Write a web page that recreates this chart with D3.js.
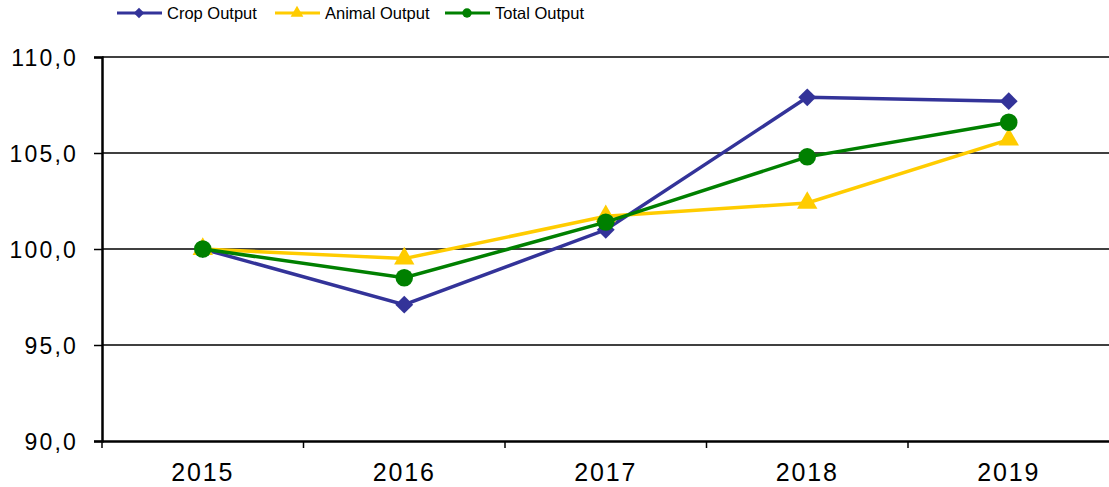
<!DOCTYPE html>
<html>
<head>
<meta charset="utf-8">
<script src="https://cdn.jsdelivr.net/npm/d3@7"></script>
<style>
  body { margin: 0; background: #fff; }
  text { font-family: "Liberation Sans", Arial, sans-serif; fill: #000; }
</style>
</head>
<body>
<script>
// data
var years = ['2015', '2016', '2017', '2018', '2019'];
var cropOutput = [100.0, 97.1, 101.0, 107.9, 107.7];
var animalOutput = [100.0, 99.5, 101.7, 102.4, 105.7];
var totalOutput = [100.0, 98.5, 101.4, 104.8, 106.6];
var yTicks = [90, 95, 100, 105, 110];

var series = [
  { name: 'Crop Output', values: cropOutput, color: '#333399', marker: 'diamond' },
  { name: 'Animal Output', values: animalOutput, color: '#FFCC00', marker: 'triangle' },
  { name: 'Total Output', values: totalOutput, color: '#008000', marker: 'circle' }
];

var width = 1109, height = 487;
var plotLeft = 102, plotRight = 1109.5, plotTop = 57, plotBottom = 441;

var svg = d3.select('body').append('svg')
  .attr('width', width)
  .attr('height', height);

var x = d3.scaleBand().domain(years).range([plotLeft, plotRight]);
var y = d3.scaleLinear().domain([90, 110]).range([plotBottom, plotTop]);

var fmt = function(d){ return d3.format('.1f')(d).replace('.', ','); };

// gridlines
svg.append('g').selectAll('line').data(yTicks.slice(1))
  .enter().append('line')
  .attr('x1', plotLeft).attr('x2', width)
  .attr('y1', function(d){ return y(d); })
  .attr('y2', function(d){ return y(d); })
  .attr('stroke', '#000').attr('stroke-width', 1.5);

// y axis
var yAxis = svg.append('g')
  .attr('transform', 'translate(' + plotLeft + ',0)')
  .call(d3.axisLeft(y).tickValues(yTicks).tickFormat(fmt).tickSize(8).tickPadding(16));
yAxis.select('.domain').attr('stroke', '#000').attr('stroke-width', 2.5);
yAxis.selectAll('.tick line').attr('stroke-width', 1.5);
yAxis.selectAll('text')
  .style('font-size', '23px')
  .style('letter-spacing', '2.2px')
  .attr('dy', '0.36em');

// x axis, ticks on category boundaries
var xAxis = svg.append('g')
  .attr('transform', 'translate(0,' + plotBottom + ')')
  .call(d3.axisBottom(x).tickSize(0).tickPadding(22));
xAxis.select('.domain').attr('stroke', '#000').attr('stroke-width', 2.5);
xAxis.selectAll('text')
  .style('font-size', '25px')
  .style('letter-spacing', '1.8px');
xAxis.selectAll('line.sep').data(years.map(function(d){ return x(d); }))
  .enter().append('line').attr('class', 'sep')
  .attr('x1', function(d){ return d; }).attr('x2', function(d){ return d; })
  .attr('y1', 0).attr('y2', 7)
  .attr('stroke', '#000').attr('stroke-width', 1.5);

var line = d3.line()
  .x(function(d, i){ return x(years[i]) + x.bandwidth() / 2; })
  .y(function(d){ return y(d); });

var symbolFor = function(m, big){
  if (m === 'diamond') return d3.symbol().type(d3.symbolSquare).size(big ? 160 : 55)();
  if (m === 'triangle') return d3.symbol().type(d3.symbolTriangle).size(big ? 180 : 70)();
  return d3.symbol().type(d3.symbolCircle).size(big ? 240 : 70)();
};

series.forEach(function(s){
  var g = svg.append('g');
  g.append('path')
    .attr('d', line(s.values))
    .attr('fill', 'none')
    .attr('stroke', s.color)
    .attr('stroke-width', 3.5);
  g.selectAll('path.mk').data(s.values)
    .enter().append('path').attr('class', 'mk')
    .attr('d', symbolFor(s.marker, true))
    .attr('transform', function(d, i){
      var cx = x(years[i]) + x.bandwidth() / 2;
      var r = s.marker === 'diamond' ? ' rotate(45)' : '';
      return 'translate(' + cx + ',' + y(d) + ')' + r;
    })
    .attr('fill', s.color);
});

// legend
var legendX = [117, 275, 445];
var leg = svg.append('g').selectAll('g').data(series)
  .enter().append('g')
  .attr('transform', function(d, i){ return 'translate(' + legendX[i] + ',13)'; });
leg.append('line')
  .attr('x1', 0).attr('x2', 45)
  .attr('stroke', function(d){ return d.color; })
  .attr('stroke-width', 3);
leg.append('path')
  .attr('d', function(d){ return symbolFor(d.marker, false); })
  .attr('transform', function(d){ return 'translate(22,0)' + (d.marker === 'diamond' ? ' rotate(45)' : ''); })
  .attr('fill', function(d){ return d.color; });
leg.append('text')
  .attr('x', 50).attr('y', 0).attr('dy', '0.35em')
  .style('font-size', '16.5px')
  .text(function(d){ return d.name; });
</script>
</body>
</html>
